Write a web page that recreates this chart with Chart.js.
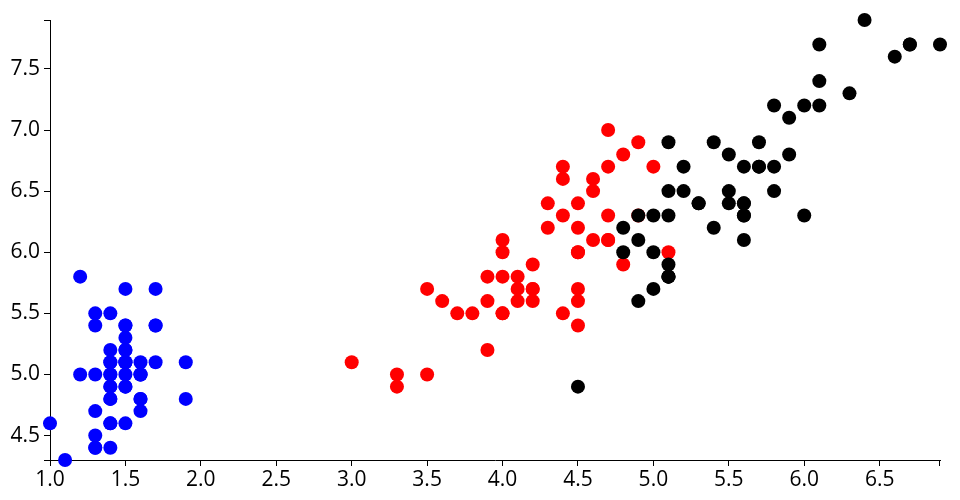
<!DOCTYPE html>
<html>
<head>
<meta charset="utf-8">
<script src="https://cdn.jsdelivr.net/npm/chart.js@4"></script>
<style>
  html, body { margin: 0; padding: 0; background: #fff; }
  #wrap { width: 960px; height: 500px; }
</style>
</head>
<body>
<div id="wrap"><canvas id="irisChart" width="960" height="500"></canvas></div>
<script>
// petal length (x) vs sepal length (y), one pair of arrays per species
const setosaPetal = [1.4,1.4,1.3,1.5,1.4,1.7,1.4,1.5,1.4,1.5,1.5,1.6,1.4,1.1,1.2,1.5,1.3,1.4,1.7,1.5,
  1.7,1.5,1.0,1.7,1.9,1.6,1.6,1.5,1.4,1.6,1.6,1.5,1.5,1.4,1.5,1.2,1.3,1.4,1.3,1.5,
  1.3,1.3,1.3,1.6,1.9,1.4,1.6,1.4,1.5,1.4];
const setosaSepal = [5.1,4.9,4.7,4.6,5.0,5.4,4.6,5.0,4.4,4.9,5.4,4.8,4.8,4.3,5.8,5.7,5.4,5.1,5.7,5.1,
  5.4,5.1,4.6,5.1,4.8,5.0,5.0,5.2,5.2,4.7,4.8,5.4,5.2,5.5,4.9,5.0,5.5,4.9,4.4,5.1,
  5.0,4.5,4.4,5.0,5.1,4.8,5.1,4.6,5.3,5.0];

const versicolorPetal = [4.7,4.5,4.9,4.0,4.6,4.5,4.7,3.3,4.6,3.9,3.5,4.2,4.0,4.7,3.6,4.4,4.5,4.1,4.5,3.9,
  4.8,4.0,4.9,4.7,4.3,4.4,4.8,5.0,4.5,3.5,3.8,3.7,3.9,5.1,4.5,4.5,4.7,4.4,4.1,4.0,
  4.4,4.6,4.0,3.3,4.2,4.2,4.2,4.3,3.0,4.1];
const versicolorSepal = [7.0,6.4,6.9,5.5,6.5,5.7,6.3,4.9,6.6,5.2,5.0,5.9,6.0,6.1,5.6,6.7,5.6,5.8,6.2,5.6,
  5.9,6.1,6.3,6.1,6.4,6.6,6.8,6.7,6.0,5.7,5.5,5.5,5.8,6.0,5.4,6.0,6.7,6.3,5.6,5.5,
  5.5,6.1,5.8,5.0,5.6,5.7,5.7,6.2,5.1,5.7];

const virginicaPetal = [6.0,5.1,5.9,5.6,5.8,6.6,4.5,6.3,5.8,6.1,5.1,5.3,5.5,5.0,5.1,5.3,5.5,6.7,6.9,5.0,
  5.7,4.9,6.7,4.9,5.7,6.0,4.8,4.9,5.6,5.8,6.1,6.4,5.6,5.1,5.6,6.1,5.6,5.5,4.8,5.4,
  5.6,5.1,5.1,5.9,5.7,5.2,5.0,5.2,5.4,5.1];
const virginicaSepal = [6.3,5.8,7.1,6.3,6.5,7.6,4.9,7.3,6.7,7.2,6.5,6.4,6.8,5.7,5.8,6.4,6.5,7.7,7.7,6.0,
  6.9,5.6,7.7,6.3,6.7,7.2,6.2,6.1,6.4,7.2,7.4,7.9,6.4,6.3,6.1,7.7,6.3,6.4,6.0,6.9,
  6.7,6.9,5.8,6.8,6.7,6.7,6.3,6.5,6.2,5.9];

const xTicks = [1.0,1.5,2.0,2.5,3.0,3.5,4.0,4.5,5.0,5.5,6.0,6.5];
const yTicks = [4.5,5.0,5.5,6.0,6.5,7.0,7.5];

function pairs(xs, ys) {
  return xs.map((x, i) => ({ x: x, y: ys[i] }));
}

function speciesSet(label, xs, ys, color, order) {
  return {
    label: label,
    data: pairs(xs, ys),
    backgroundColor: color,
    pointRadius: 7,
    pointHoverRadius: 7,
    pointBorderWidth: 0,
    clip: false,
    order: order
  };
}

// d3-style outer ticks at the ends of each axis line
const outerTicks = {
  id: 'outerTicks',
  beforeDatasetsDraw(chart) {
    const { ctx, chartArea: a } = chart;
    ctx.save();
    ctx.strokeStyle = '#000';
    ctx.lineWidth = 1;
    ctx.beginPath();
    ctx.moveTo(a.left - 6, a.top + 0.5); ctx.lineTo(a.left, a.top + 0.5);
    ctx.moveTo(a.left - 6, a.bottom + 0.5); ctx.lineTo(a.left, a.bottom + 0.5);
    ctx.moveTo(a.left + 0.5, a.bottom); ctx.lineTo(a.left + 0.5, a.bottom + 6);
    ctx.moveTo(a.right - 0.5, a.bottom); ctx.lineTo(a.right - 0.5, a.bottom + 6);
    ctx.stroke();
    ctx.restore();
  }
};

const tickFont = { family: '"Open Sans", "Noto Sans", sans-serif', size: 21 };

new Chart(document.getElementById('irisChart'), {
  type: 'scatter',
  data: {
    datasets: [
      speciesSet('setosa', setosaPetal, setosaSepal, '#0000ff', 2),
      speciesSet('versicolor', versicolorPetal, versicolorSepal, '#ff0000', 1),
      speciesSet('virginica', virginicaPetal, virginicaSepal, '#000000', 0)
    ]
  },
  options: {
    responsive: false,
    animation: false,
    layout: { padding: { left: 0, top: 20, right: 20, bottom: 0 } },
    plugins: { legend: { display: false }, tooltip: { enabled: false } },
    scales: {
      x: {
        type: 'linear',
        min: 1.0,
        max: 6.9,
        afterBuildTicks: s => { s.ticks = xTicks.map(v => ({ value: v })); },
        afterFit: s => { s.height = 40; },
        grid: { drawOnChartArea: false, tickLength: 6, color: '#000' },
        border: { display: true, color: '#000' },
        ticks: { color: '#000', font: tickFont, padding: 1, maxRotation: 0,
                 callback: v => Number(v).toFixed(1) }
      },
      y: {
        type: 'linear',
        min: 4.3,
        max: 7.9,
        afterBuildTicks: s => { s.ticks = yTicks.map(v => ({ value: v })); },
        afterFit: s => { s.width = 50; },
        grid: { drawOnChartArea: false, tickLength: 6, color: '#000' },
        border: { display: true, color: '#000' },
        ticks: { color: '#000', font: tickFont, padding: 4,
                 callback: v => Number(v).toFixed(1) }
      }
    }
  },
  plugins: [outerTicks]
});
</script>
</body>
</html>
